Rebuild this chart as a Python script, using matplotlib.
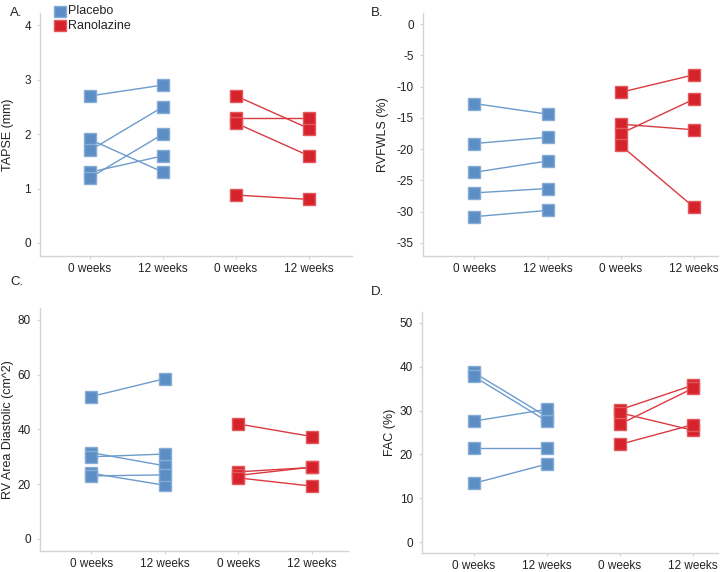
import numpy as np
import matplotlib.pyplot as plt

plt.rcParams['font.family'] = ['Arial', 'Liberation Sans', 'DejaVu Sans']
plt.rcParams['axes.unicode_minus'] = False

x_labels = ['0 weeks', '12 weeks', '0 weeks', '12 weeks']

# A. TAPSE (mm)
tapse_pla_0 = [2.7, 1.9, 1.7, 1.3, 1.2]
tapse_pla_12 = [2.9, 1.3, 2.5, 1.6, 2.0]
tapse_ran_0 = [2.7, 2.3, 2.2, 0.88]
tapse_ran_12 = [2.1, 2.3, 1.6, 0.8]

# B. RVFWLS (%)
rvfwls_pla_0 = [-12.7, -19.1, -23.7, -27.0, -30.8]
rvfwls_pla_12 = [-14.4, -18.1, -21.9, -26.3, -29.8]
rvfwls_ran_0 = [-10.9, -16.0, -17.5, -19.4]
rvfwls_ran_12 = [-8.1, -16.9, -12.0, -29.3]

# C. RV Area Diastolic (cm^2)
rva_pla_0 = [52.0, 31.5, 30.0, 24.0, 23.0]
rva_pla_12 = [58.5, 26.7, 31.0, 19.6, 23.4]
rva_ran_0 = [42.0, 24.5, 23.2, 22.3]
rva_ran_12 = [37.4, 26.1, 26.2, 19.3]

# D. FAC (%)
fac_pla_0 = [38.7, 37.8, 27.6, 21.4, 13.4]
fac_pla_12 = [28.6, 27.6, 30.3, 21.4, 17.8]
fac_ran_0 = [30.2, 29.5, 26.9, 22.3]
fac_ran_12 = [35.8, 25.5, 35.1, 26.8]

blue_face, blue_edge, blue_line = '#5b8ec4', '#86acd6', '#6c9bcc'
red_face, red_edge, red_line = '#d6232b', '#e2585e', '#d93a40'

fig = plt.figure(figsize=(7.2, 5.72), dpi=100)


def panel(rect, pla0, pla12, ran0, ran12, ylabel, label_x, yticks, ylim, xlim, letter, letter_pos):
    ax = fig.add_axes(rect)
    for a, b in zip(pla0, pla12):
        ax.plot([0, 1], [a, b], color=blue_line, lw=1.0, zorder=2)
    for a, b in zip(ran0, ran12):
        ax.plot([2, 3], [a, b], color=red_line, lw=1.0, zorder=2)
    ax.plot([0] * len(pla0) + [1] * len(pla12), pla0 + pla12, 's', ms=9,
            mfc=blue_face, mec=blue_edge, mew=1.0, ls='none', zorder=3)
    ax.plot([2] * len(ran0) + [3] * len(ran12), ran0 + ran12, 's', ms=9,
            mfc=red_face, mec=red_edge, mew=1.0, ls='none', zorder=3)
    ax.set_xticks(range(4))
    ax.set_xticklabels(x_labels)
    ax.set_yticks(yticks)
    ax.set_xlim(xlim)
    ax.set_ylim(ylim)
    ax.set_ylabel(ylabel, fontsize=9, color='#222222', va='center')
    ax.yaxis.set_label_coords(label_x, 0.5)
    for s in ['top', 'right']:
        ax.spines[s].set_visible(False)
    for s in ['left', 'bottom']:
        ax.spines[s].set_color('#d4d4d4')
        ax.spines[s].set_linewidth(1.0)
    ax.tick_params(length=2.5, width=0.8, color='#d4d4d4', labelsize=8.5,
                   labelcolor='#222222', pad=4)
    ax.tick_params(axis='x', pad=2.5)
    fig.text(letter_pos[0], letter_pos[1], letter, fontsize=9.5, color='#222222',
             ha='left', va='center')
    return ax


axA = panel([0.0556, 0.5524, 0.4334, 0.4246], tapse_pla_0, tapse_pla_12, tapse_ran_0, tapse_ran_12,
            'TAPSE (mm)', -0.103, [0, 1, 2, 3, 4], (-0.24, 4.22), (-0.685, 3.59), 'A.', (0.014, 0.977))
axB = panel([0.5875, 0.5524, 0.41, 0.4246], rvfwls_pla_0, rvfwls_pla_12, rvfwls_ran_0, rvfwls_ran_12,
            'RVFWLS (%)', -0.136, [0, -5, -10, -15, -20, -25, -30, -35], (-37.1, 1.76), (-0.70, 3.33),
            'B.', (0.515, 0.977))
axC = panel([0.0556, 0.0367, 0.428, 0.4248], rva_pla_0, rva_pla_12, rva_ran_0, rva_ran_12,
            'RV Area Diastolic (cm^2)', -0.104, [0, 20, 40, 60, 80], (-4.4, 84.3), (-0.70, 3.5), 'C.',
            (0.014, 0.507))
axD = panel([0.586, 0.0332, 0.411, 0.4213], fac_pla_0, fac_pla_12, fac_ran_0, fac_ran_12,
            'FAC (%)', -0.108, [0, 10, 20, 30, 40, 50], (-2.5, 52.5), (-0.71, 3.34), 'D.',
            (0.515, 0.49))

# legend
fig.text(0.0944, 0.980, 'Placebo', fontsize=9, color='#222222', va='center')
fig.text(0.0944, 0.9554, 'Ranolazine', fontsize=9, color='#222222', va='center')
fig.patches.append(plt.Rectangle((0.075, 0.9700), 0.0167, 0.0195, transform=fig.transFigure,
                                 facecolor=blue_face, edgecolor=blue_edge, lw=1.0))
fig.patches.append(plt.Rectangle((0.075, 0.9458), 0.0167, 0.0195, transform=fig.transFigure,
                                 facecolor=red_face, edgecolor=red_edge, lw=1.0))

fig.savefig('out.png', dpi=100)
